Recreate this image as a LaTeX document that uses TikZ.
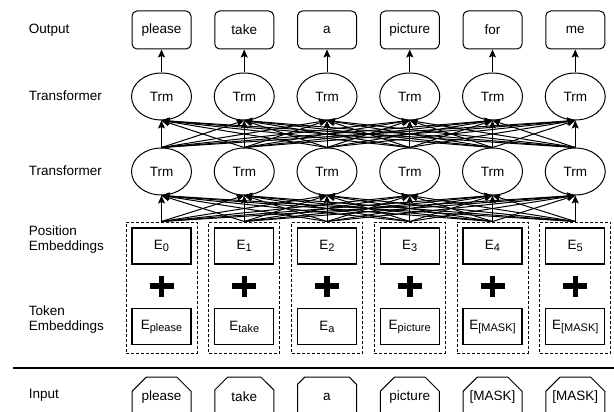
\documentclass[tikz,border=0pt]{standalone}
\usepackage{fontspec}
\setmainfont{Liberation Sans}
\usetikzlibrary{shapes.geometric,shapes.misc,arrows.meta}

\newcommand{\embsub}[1]{\raisebox{-2pt}{\fontsize{11}{11}\selectfont #1}}

\tikzset{
  every node/.style={line width=1pt},
  lbl/.style={anchor=west, align=left, font=\fontsize{13.5}{15}\selectfont},
  outbox/.style={draw, rounded corners=5pt, minimum width=59pt, minimum height=38pt, inner sep=0pt, font=\fontsize{13.5}{15}\selectfont},
  trm/.style={draw, ellipse, minimum width=60pt, minimum height=47pt, inner sep=0pt, font=\fontsize{13.5}{15}\selectfont},
  embbox/.style={draw, minimum width=59pt, minimum height=36pt, inner sep=0pt, line width=1.2pt, font=\fontsize{13.5}{15}\selectfont},
  grp/.style={draw, dash pattern=on 3pt off 2pt, minimum width=71pt, minimum height=131pt, inner sep=0pt},
  inbox/.style={draw, chamfered rectangle, chamfered rectangle corners={north west,north east}, chamfered rectangle xsep=8pt, chamfered rectangle ysep=8pt, minimum width=59pt, minimum height=40pt, inner sep=0pt, font=\fontsize{13.5}{15}\selectfont},
  arr/.style={-{Stealth[length=8pt,width=7pt,inset=1.5pt]}, line width=1pt},
  plus/.style={line width=5.5pt}
}

\begin{document}
\begin{tikzpicture}[x=1pt, y=-1pt]
    \useasboundingbox (0,0) rectangle (614,412);

    % Row labels on the left
    \node[lbl] (lout) at (25, 30) {Output};
    \node[lbl] (ltrmA) at (25, 96) {Transformer};
    \node[lbl] (ltrmB) at (25, 171) {Transformer};
    \node[lbl] (lpos) at (25, 240) {Position\\Embeddings};
    \node[lbl] (ltok) at (25, 320) {Token\\Embeddings};
    \node[lbl] (lin) at (25, 395) {Input};

    % Separator above the input row
    \draw[line width=1.6pt] (13, 368) -- (614, 368);

    % One column per token
    \foreach \i/\word/\pe/\tok/\inp in {
        1/please/0/please/please,
        2/take/1/take/take,
        3/a/2/a/a,
        4/picture/3/picture/picture,
        5/for/4/{[MASK]}/{[MASK]},
        6/me/5/{[MASK]}/{[MASK]}} {
      \pgfmathsetmacro{\cx}{161.5 + 82.75*(\i-1)}
      \node[outbox] (out\i) at (\cx, 30) {\word};
      \node[trm] (trmA\i) at (\cx, 96.5) {Trm};
      \node[trm] (trmB\i) at (\cx, 171.5) {Trm};
      \node[grp] (grp\i) at (\cx, 287.5) {};
      \node[embbox] (pos\i) at (\cx, 246) {E\embsub{\pe}};
      \coordinate (plus\i) at (\cx, 286);
      \draw[plus] ([xshift=-12pt]plus\i) -- ([xshift=12pt]plus\i);
      \draw[plus] ([yshift=-10.5pt]plus\i) -- ([yshift=10.5pt]plus\i);
      \node[embbox] (tok\i) at (\cx, 326.5) {E\embsub{\tok}};
      \node[inbox] (in\i) at (\cx, 397) {\inp};
      \draw[arr] (trmA\i.north) -- (out\i.south);
    }

    % Fully connected layers
    \foreach \i in {1,...,6} {
      \foreach \j in {1,...,6} {
        \draw[arr] (grp\i.north) -- (trmB\j.south);
        \draw[arr] (trmB\i.north) -- (trmA\j.south);
      }
    }

\end{tikzpicture}
\end{document}
